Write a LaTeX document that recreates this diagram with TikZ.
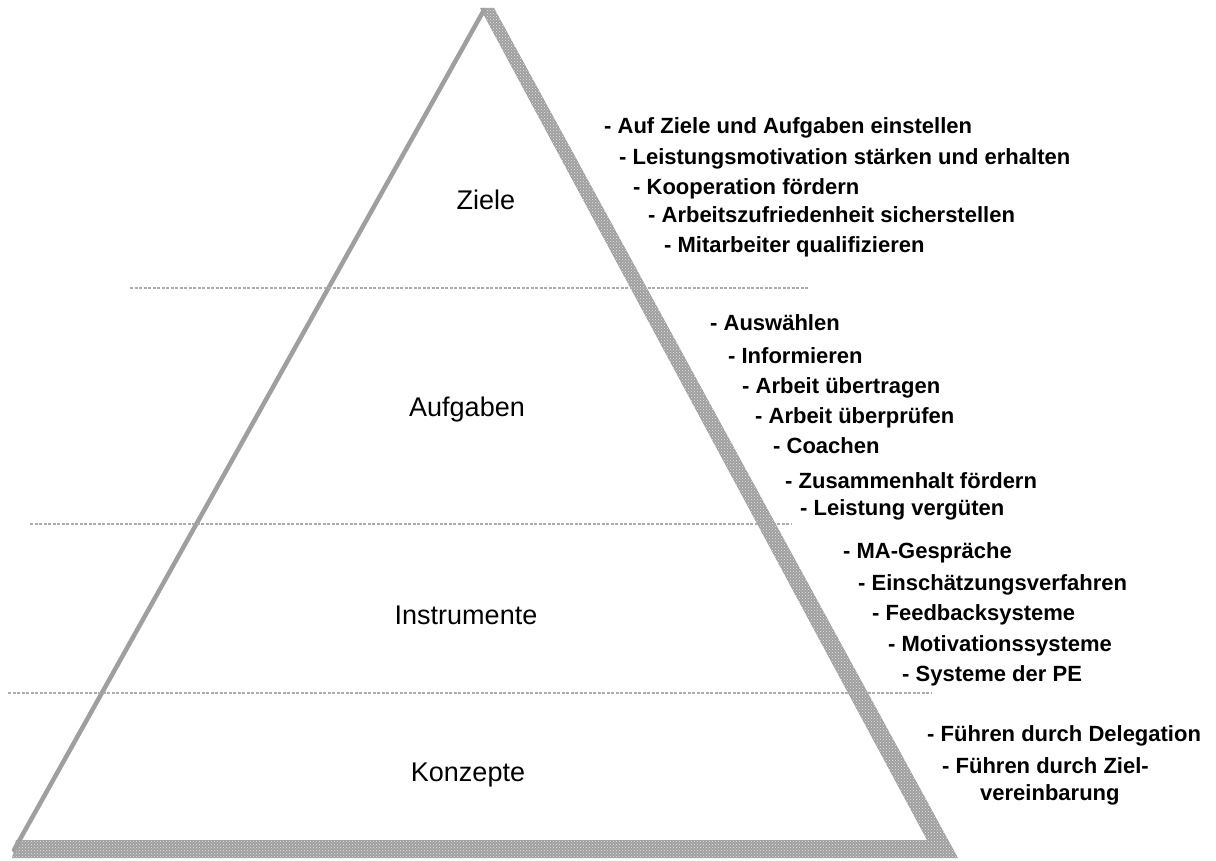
\documentclass[tikz,border=0pt]{standalone}
\usepackage{fontspec}
\setmainfont{Liberation Sans}
\usetikzlibrary{positioning,patterns}
\tikzstyle{level}=[inner sep=0pt,font=\fontsize{27}{32}\selectfont]
\tikzstyle{item}=[inner sep=0pt,font=\bfseries\fontsize{22}{26}\selectfont]
\tikzstyle{divider}=[gray!65,line width=2.5pt,dash pattern=on 3pt off 1.5pt]
\tikzstyle{edge}=[gray!75,line width=4.5pt,line cap=round]
\tikzstyle{band}=[fill=gray!75,postaction={pattern=crosshatch dots,pattern color=white!80!gray}]

\begin{document}
\begin{tikzpicture}[x=1pt,y=-1pt]
\useasboundingbox (0,0) rectangle (1216,861);

% pyramid
\coordinate (apex) at (484,10);
\coordinate (bl) at (14,850);
\path[band] (480,8) -- (494,8) -- (958,858) -- (12,858) -- (16,840) -- (927,840) -- cycle;
\draw[edge] (apex) -- (bl);

\draw[divider] (130,288) -- (808,288);
\draw[divider] (30,524) -- (792,524);
\draw[divider] (8,693) -- (932,693);

% levels
\node (ziele) [level] at (486,200) {Ziele};
\node (aufgaben) [level] at (467,410) {Aufgaben};
\node (instrumente) [level] at (466,615) {Instrumente};
\node (konzepte) [level] at (468,775) {Konzepte};

% Ziele
\node (z1) [item,anchor=base west] at (604,134) {- Auf Ziele und Aufgaben einstellen};
\node (z2) [item,below right=31pt and 15pt of z1.base west,anchor=base west] {- Leistungsmotivation stärken und erhalten};
\node (z3) [item,below right=30pt and 14pt of z2.base west,anchor=base west] {- Kooperation fördern};
\node (z4) [item,below right=28pt and 15pt of z3.base west,anchor=base west] {- Arbeitszufriedenheit sicherstellen};
\node (z5) [item,below right=30pt and 16pt of z4.base west,anchor=base west] {- Mitarbeiter qualifizieren};

% Aufgaben
\node (a1) [item,anchor=base west] at (710,330) {- Auswählen};
\node (a2) [item,below right=33pt and 18pt of a1.base west,anchor=base west] {- Informieren};
\node (a3) [item,below right=30pt and 14pt of a2.base west,anchor=base west] {- Arbeit übertragen};
\node (a4) [item,below right=30pt and 13pt of a3.base west,anchor=base west] {- Arbeit überprüfen};
\node (a5) [item,below right=30pt and 18pt of a4.base west,anchor=base west] {- Coachen};
\node (a6) [item,below right=35pt and 12pt of a5.base west,anchor=base west] {- Zusammenhalt fördern};
\node (a7) [item,below right=27pt and 15pt of a6.base west,anchor=base west] {- Leistung vergüten};

% Instrumente
\node (i1) [item,anchor=base west] at (843,558) {- MA-Gespräche};
\node (i2) [item,below right=32pt and 15pt of i1.base west,anchor=base west] {- Einschätzungsverfahren};
\node (i3) [item,below right=30pt and 14pt of i2.base west,anchor=base west] {- Feedbacksysteme};
\node (i4) [item,below right=31pt and 16pt of i3.base west,anchor=base west] {- Motivationssysteme};
\node (i5) [item,below right=30pt and 14pt of i4.base west,anchor=base west] {- Systeme der PE};

% Konzepte
\node (k1) [item,anchor=base west] at (927,741) {- Führen durch Delegation};
\node (k2) [item,below right=32pt and 15pt of k1.base west,anchor=base west] {- Führen durch Ziel-};
\node (k3) [item,below right=27pt and 38pt of k2.base west,anchor=base west] {vereinbarung};

\end{tikzpicture}
\end{document}
